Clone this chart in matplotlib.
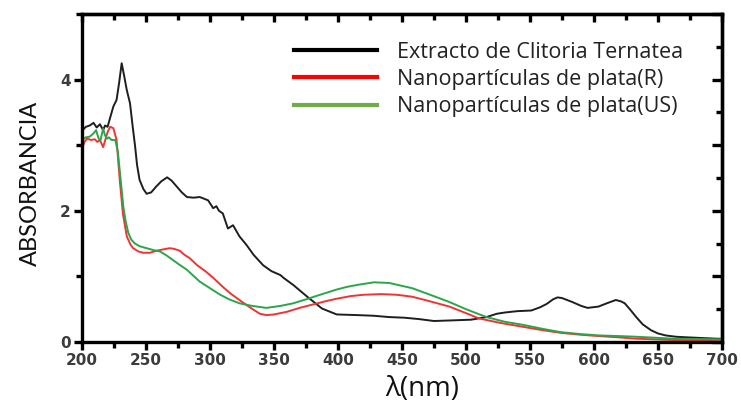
import matplotlib
matplotlib.use("Agg")
import matplotlib.pyplot as plt
from matplotlib.lines import Line2D
from matplotlib.ticker import MultipleLocator

# UV-vis spectra (wavelength nm, absorbance)
nm_extracto = [200, 203, 206, 209, 211.5, 214, 216.5, 218, 220, 222,
               224.5, 227, 229, 231, 233, 235, 237.5, 239.5, 241.5, 243,
               245, 248, 250.5, 254, 258, 262, 266.5, 270, 274, 278,
               282, 287, 292, 298.5, 302.5, 305, 307, 310, 314, 318,
               323, 328.5, 334, 341.5, 348, 355, 358, 365, 376, 387.5,
               399, 415, 428, 440, 452, 463, 475, 490, 504, 516,
               524, 530.5, 540, 551, 558, 563, 568, 571.5, 575, 583,
               590, 595, 603.5, 610, 617, 621, 624, 628, 633, 638,
               644.5, 650, 656, 664, 674, 685, 696, 700]
abs_extracto = [3.22, 3.28, 3.30, 3.34, 3.27, 3.32, 3.23, 3.30, 3.28, 3.42,
                3.59, 3.69, 3.95, 4.25, 4.05, 3.84, 3.64, 3.30, 2.98, 2.70,
                2.47, 2.33, 2.26, 2.28, 2.37, 2.45, 2.51, 2.46, 2.37, 2.28,
                2.21, 2.20, 2.21, 2.16, 2.04, 2.07, 2.00, 1.96, 1.73, 1.78,
                1.61, 1.48, 1.33, 1.17, 1.08, 1.02, 0.97, 0.87, 0.69, 0.51,
                0.42, 0.41, 0.40, 0.38, 0.37, 0.35, 0.32, 0.33, 0.34, 0.38,
                0.43, 0.45, 0.47, 0.48, 0.53, 0.58, 0.65, 0.68, 0.67, 0.61,
                0.55, 0.52, 0.54, 0.59, 0.64, 0.62, 0.59, 0.50, 0.38, 0.27,
                0.18, 0.13, 0.10, 0.08, 0.07, 0.06, 0.05, 0.05]

nm_r = [200, 202, 204, 207, 210, 212, 214, 216.5, 218.5, 220,
        222, 224.5, 227, 229.5, 232, 235, 238, 240, 244, 248,
        253, 258, 263, 268.5, 272, 276.5, 280, 284, 290, 297,
        303, 310, 316, 323, 331, 339, 344, 350, 360, 370,
        380, 390, 399, 410, 420, 434, 446, 458, 470, 487,
        500, 510, 527, 545, 560, 574, 590, 604, 620, 633,
        648, 662, 680, 700]
abs_r = [2.95, 3.05, 3.10, 3.08, 3.09, 3.05, 3.08, 2.97, 3.10, 3.20,
         3.28, 3.26, 3.08, 2.47, 1.95, 1.61, 1.48, 1.43, 1.38, 1.36,
         1.36, 1.39, 1.41, 1.43, 1.42, 1.39, 1.33, 1.28, 1.17, 1.07,
         0.97, 0.84, 0.74, 0.64, 0.53, 0.43, 0.41, 0.42, 0.46, 0.52,
         0.57, 0.62, 0.66, 0.70, 0.72, 0.73, 0.72, 0.69, 0.63, 0.54,
         0.44, 0.36, 0.29, 0.23, 0.18, 0.14, 0.11, 0.09, 0.07, 0.05,
         0.04, 0.03, 0.025, 0.02]

nm_us = [200, 203, 206, 209, 211, 213, 214.5, 216.5, 218, 219.5,
         221, 223, 226, 228, 229.7, 232.3, 234, 236.2, 238.5, 241.4,
         245, 250.5, 256, 261, 266, 271, 276, 282, 287, 292,
         300, 308, 315, 323, 333, 344, 355, 365, 375, 386,
         399, 407, 415, 428, 440, 458, 472, 487, 500, 516,
         530, 545, 560, 574, 590, 604, 620, 633, 648, 662,
         680, 700]
abs_us = [3.08, 3.12, 3.13, 3.18, 3.23, 3.10, 3.08, 3.25, 3.15, 3.10,
          3.12, 3.08, 3.08, 2.90, 2.57, 2.06, 1.85, 1.66, 1.56, 1.50,
          1.46, 1.43, 1.40, 1.38, 1.32, 1.25, 1.18, 1.10, 1.01, 0.92,
          0.82, 0.72, 0.65, 0.59, 0.55, 0.52, 0.55, 0.59, 0.65, 0.72,
          0.80, 0.84, 0.87, 0.91, 0.90, 0.82, 0.72, 0.61, 0.50, 0.38,
          0.31, 0.26, 0.20, 0.15, 0.12, 0.10, 0.09, 0.08, 0.065, 0.05,
          0.045, 0.04]

labels = ["Extracto de Clitoria Ternatea",
          "Nanopartículas de plata(R)",
          "Nanopartículas de plata(US)"]

fig = plt.figure(figsize=(7.41, 4.11), dpi=100)
ax = fig.add_axes([82/741, 1 - 342/411, 640/741, 328/411])

ax.plot(nm_extracto, abs_extracto, color="#1e1e1e", lw=1.4)
ax.plot(nm_r, abs_r, color="#ef3434", lw=1.4)
ax.plot(nm_us, abs_us, color="#2aa64a", lw=1.4)

ax.set_xlim(200, 700)
ax.set_ylim(0, 5)

for s in ax.spines.values():
    s.set_linewidth(2.4)

tick_font = dict(family="DejaVu Sans", weight="bold", size=11, color="#3c3c3c")
ax.xaxis.set_major_locator(MultipleLocator(50))
ax.xaxis.set_minor_locator(MultipleLocator(25))
ax.yaxis.set_major_locator(MultipleLocator(2))
ax.yaxis.set_minor_locator(MultipleLocator(1))
ax.tick_params(which="major", direction="out", length=6, width=2.4, pad=2)
ax.tick_params(which="minor", direction="out", length=4, width=2.4)
for lab in ax.get_xticklabels() + ax.get_yticklabels():
    lab.set(**tick_font)

# top and right ticks point into the plot
top = ax.secondary_xaxis("top")
top.xaxis.set_major_locator(MultipleLocator(50))
top.xaxis.set_minor_locator(MultipleLocator(25))
top.tick_params(which="major", direction="in", length=6, width=2.4, labeltop=False)
top.tick_params(which="minor", direction="in", length=4, width=2.4)
top.spines["top"].set_linewidth(2.4)

right = ax.secondary_yaxis("right")
right.yaxis.set_major_locator(MultipleLocator(1))
right.yaxis.set_minor_locator(MultipleLocator(0.5))
right.tick_params(which="major", direction="in", length=7, width=2.4, labelright=False)
right.tick_params(which="minor", direction="in", length=4, width=2.4)
right.spines["right"].set_linewidth(2.4)

fig.text(30/741, 1 - 183/411, "ABSORBANCIA", rotation=90, ha="center",
         va="center", family="Lato", size=17, color="#111111")
fig.text(422/741, 1 - 389/411, "λ(nm)", ha="center", va="center",
         family="Open Sans", size=20, color="#111111")

handles = [Line2D([], [], color="black", lw=3),
           Line2D([], [], color="#ff0000", lw=3),
           Line2D([], [], color="#70ad47", lw=3)]
leg = ax.legend(handles, labels, loc="upper left", frameon=False,
                bbox_to_anchor=(294/741, 1 - 42/411), bbox_transform=fig.transFigure,
                prop=dict(family="Open Sans", size=15.5), handlelength=3.85,
                handletextpad=0.92, labelspacing=0.28, borderaxespad=0,
                borderpad=0)
for t in leg.get_texts():
    t.set_color("#222222")

fig.savefig("out.png", dpi=100)
